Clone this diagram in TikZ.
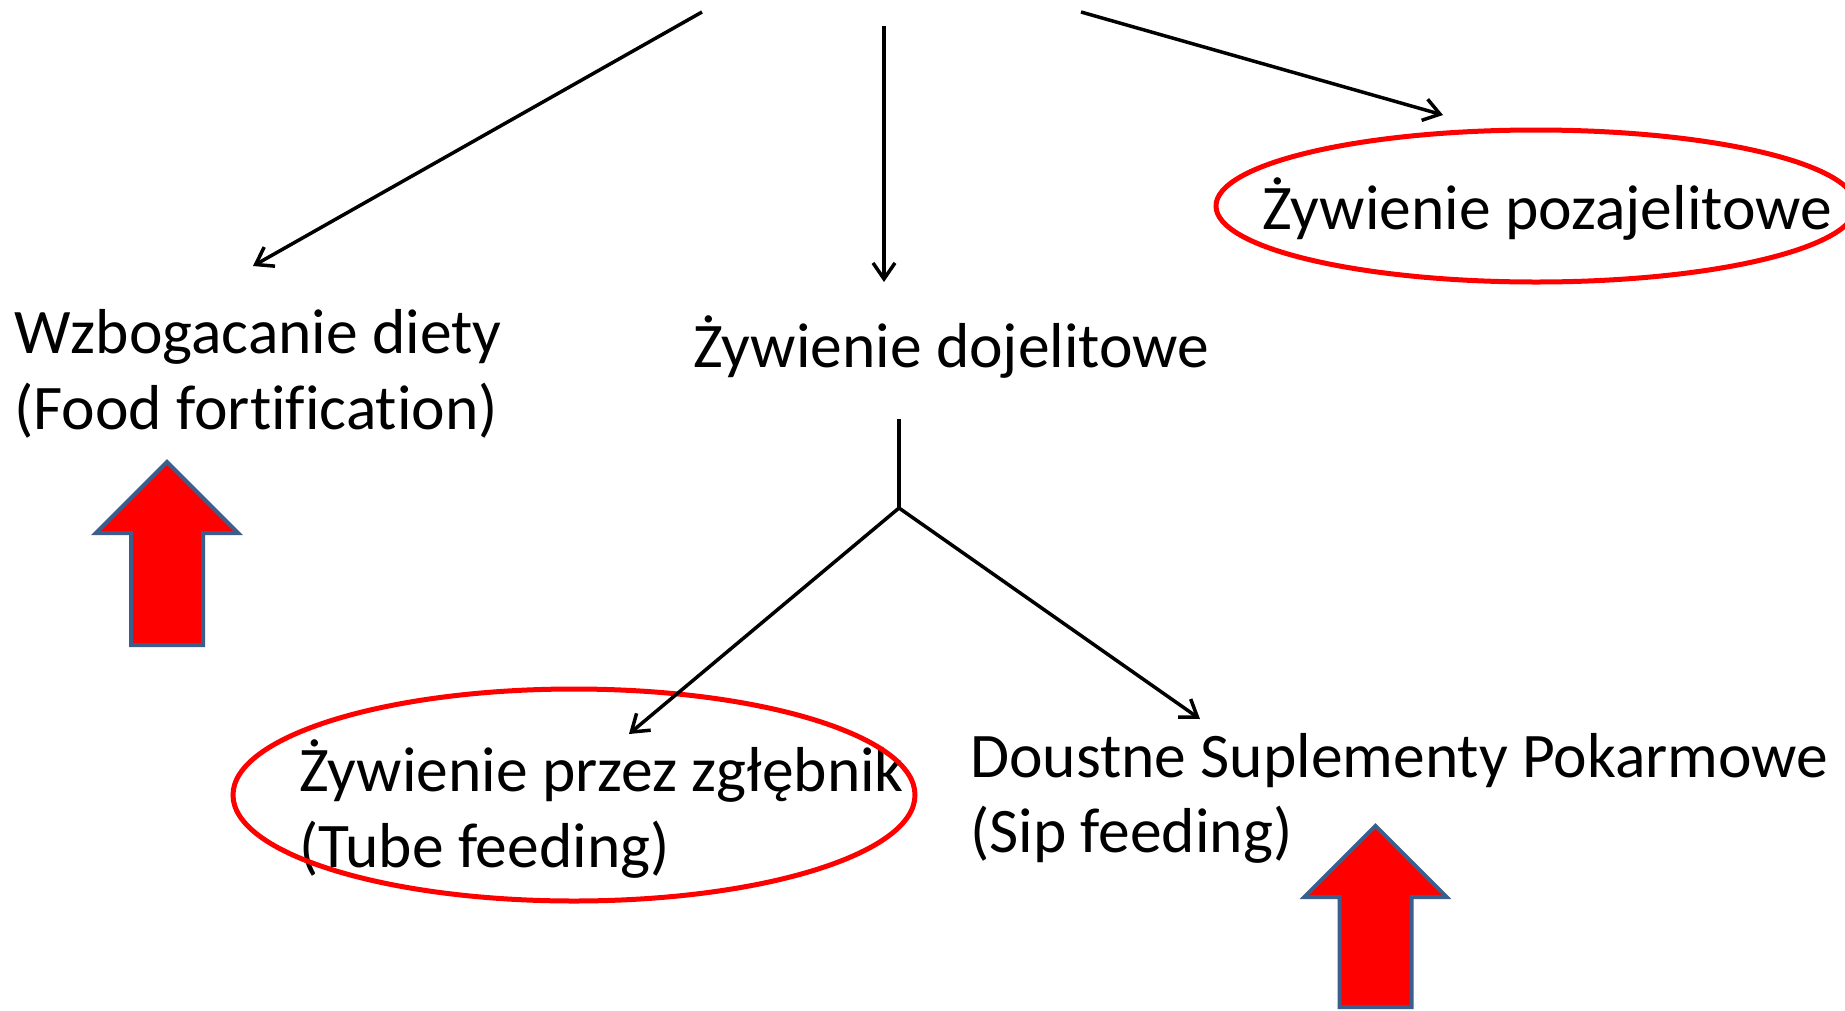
\documentclass[tikz,border=0pt]{standalone}
\usepackage{fontspec}
\setmainfont[Ligatures=NoCommon]{Carlito}
\usetikzlibrary{arrows.meta}
\definecolor{arrowedge}{HTML}{3B5E8C}
\begin{document}
\begin{tikzpicture}[x=1pt,y=-1pt,
  lbl/.style={font=\fontsize{63.5}{76}\selectfont, inner sep=0pt, anchor=base west},
  conn/.style={line width=3.5pt, -{Straight Barb[length=16pt,width=22pt,line width=3.5pt]}},
  plain/.style={line width=3.5pt},
  ring/.style={draw=red, line width=5pt},
  bigarrow/.style={fill=red, draw=arrowedge, line width=4pt, line join=miter}]
\useasboundingbox (0,0) rectangle (1845,1010);

% texts
\node[lbl] (wz1) at (14,353) {Wzbogacanie diety};
\node[lbl] (wz2) at (14,429) {(Food fortification)};
\node[lbl] (doj) at (693,367) {Żywienie dojelitowe};
\node[lbl] (poz) at (1262,229) {Żywienie pozajelitowe};
\node[lbl] (tube1) at (299,791) {Żywienie przez zgłębnik};
\node[lbl] (tube2) at (299,867) {(Tube feeding)};
\node[lbl] (sip1) at (970,777) {Doustne Suplementy Pokarmowe};
\node[lbl] (sip2) at (970,852) {(Sip feeding)};

% ellipses
\draw[ring] (1536,206) ellipse [x radius=320pt, y radius=76pt];
\draw[ring] (574,795) ellipse [x radius=341pt, y radius=106pt];

% connector coordinates
\coordinate (s1) at (702,12);  \coordinate (e1) at (253,266);
\coordinate (s2) at (884,26);  \coordinate (e2) at (884,282);
\coordinate (s3) at (1081,12); \coordinate (e3) at (1443,115);
\coordinate (fs) at (899,419); \coordinate (fj) at (899,508);
\coordinate (e4) at (629,734); \coordinate (e5) at (1200,719);

\draw[conn] (s1) -- (e1);
\draw[conn] (s2) -- (e2);
\draw[conn] (s3) -- (e3);
\draw[plain] (fs) -- (fj);
\draw[conn] (fj) -- (e4);
\draw[conn] (fj) -- (e5);

% big red arrows
\draw[bigarrow] (167,462) -- (238,533) -- (203,533) -- (203,645) -- (131,645) -- (131,533) -- (96,533) -- cycle;
\draw[bigarrow] (1375.5,826) -- (1446.5,897) -- (1411.5,897) -- (1411.5,1007) -- (1339.5,1007) -- (1339.5,897) -- (1304.5,897) -- cycle;
\end{tikzpicture}
\end{document}
